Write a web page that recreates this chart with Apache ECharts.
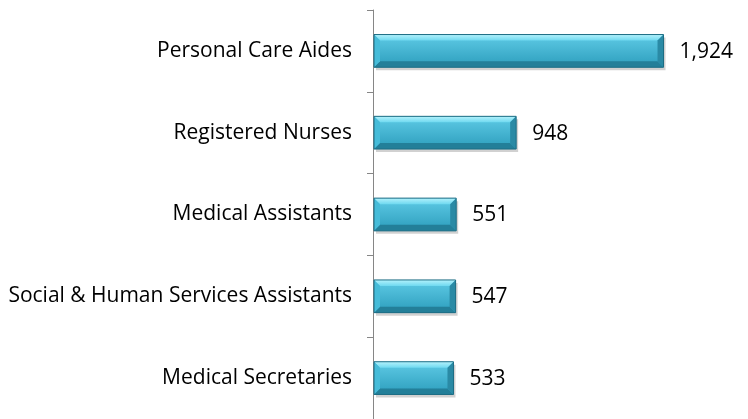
<!DOCTYPE html>
<html>
<head>
<meta charset="utf-8">
<script src="https://cdn.jsdelivr.net/npm/echarts@6/dist/echarts.min.js"></script>
<style>
  html, body { margin: 0; padding: 0; background: #fff; }
  #chart { width: 748px; height: 419px; }
</style>
</head>
<body>
<div id="chart"></div>
<script>
var categories = ['Personal Care Aides', 'Registered Nurses', 'Medical Assistants',
    'Social & Human Services Assistants', 'Medical Secretaries'];
var values = [1924, 948, 551, 547, 533];

var myChart = echarts.init(document.getElementById('chart'));

// bevelled bar drawn from the axis scale, with its value label
function renderBar(params, api) {
    var cat = api.value(0);
    var val = api.value(1);
    var start = api.coord([0, cat]);
    var end = api.coord([val, cat]);
    var h = api.size([0, 1])[1] * 0.4;
    var x0 = start[0] + 1, x1 = end[0];
    var y0 = start[1] - h / 2, y1 = start[1] + h / 2;
    var b = 6;
    return {
        type: 'group',
        children: [
            { type: 'rect', shape: { x: x0 + 2, y: y0 + 3, width: x1 - x0, height: y1 - y0 },
              style: { fill: 'rgba(0,0,0,0.18)' } },
            { type: 'rect', shape: { x: x0, y: y0, width: x1 - x0, height: y1 - y0 },
              style: { fill: new echarts.graphic.LinearGradient(0, 0, 0, 1, [
                  { offset: 0, color: '#5fcbe6' }, { offset: 1, color: '#2c9dbc' }]) } },
            { type: 'polygon', shape: { points: [[x0, y0], [x1, y0], [x1 - b, y0 + b], [x0 + b, y0 + b]] },
              style: { fill: new echarts.graphic.LinearGradient(0, 0, 0, 1, [
                  { offset: 0, color: '#b4f2fc' }, { offset: 1, color: '#6fd9f0' }]) } },
            { type: 'polygon', shape: { points: [[x0, y1], [x1, y1], [x1 - b, y1 - b], [x0 + b, y1 - b]] },
              style: { fill: '#237f99' } },
            { type: 'polygon', shape: { points: [[x0, y0], [x0 + b, y0 + b], [x0 + b, y1 - b], [x0, y1]] },
              style: { fill: '#46bcd9' } },
            { type: 'polygon', shape: { points: [[x1, y0], [x1 - b, y0 + b], [x1 - b, y1 - b], [x1, y1]] },
              style: { fill: '#2a8aa5' } },
            { type: 'rect', shape: { x: x0, y: y0, width: x1 - x0, height: y1 - y0 },
              style: { fill: 'none', stroke: '#1d6d84', lineWidth: 1 } },
            { type: 'text', x: x1 + 16, y: start[1] + 1,
              style: { text: val.toLocaleString('en-US'), fill: '#000', fontSize: 21,
                       fontFamily: 'Open Sans', verticalAlign: 'middle', align: 'left' } }
        ]
    };
}

var option = {
    animation: false,
    grid: { left: 373, right: 73, top: 10, bottom: -1 },
    xAxis: {
        type: 'value', min: 0, max: 2000,
        show: false
    },
    yAxis: {
        type: 'category', inverse: true, data: categories,
        axisLine: { lineStyle: { color: '#868686', width: 1 } },
        axisTick: { show: true, length: 6, lineStyle: { color: '#868686' } },
        axisLabel: { color: '#000', fontSize: 21, fontFamily: 'Open Sans', margin: 21 }
    },
    series: [
        {
            type: 'custom',
            renderItem: renderBar,
            encode: { x: 1, y: 0 },
            data: values.map(function (v, i) { return [i, v]; })
        }
    ]
};

myChart.setOption(option);
</script>
</body>
</html>
